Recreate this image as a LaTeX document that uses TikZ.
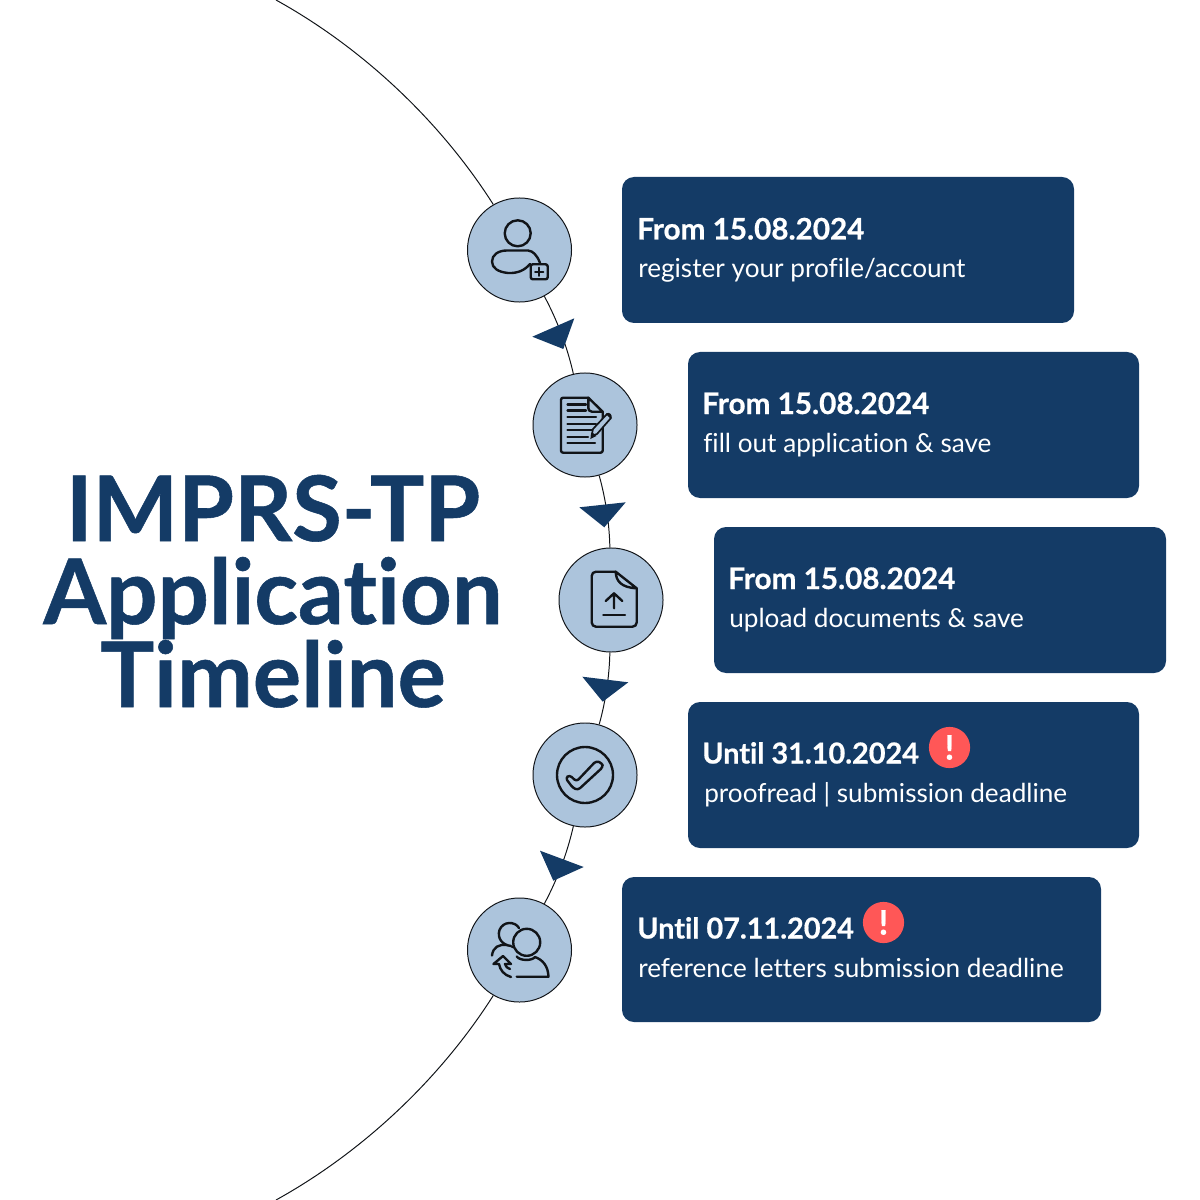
\documentclass[tikz,border=0pt]{standalone}
\usepackage{fontspec}
\setmainfont{Lato}[Ligatures=CommonOff,BoldFeatures={FakeBold=0.6}]
\usetikzlibrary{calc}
\definecolor{navy}{HTML}{143B66}
\definecolor{paleblue}{HTML}{ACC4DC}
\definecolor{alertred}{HTML}{FF5757}
\definecolor{inkline}{HTML}{111418}
\tikzset{
	stepcircle/.style={circle,draw=inkline,line width=0.7pt,fill=paleblue,minimum size=2.6cm,inner sep=0pt},
	stepbox/.style={draw=none,fill=navy,rounded corners=0.3cm},
	datehead/.style={anchor=base west,inner sep=0pt,text=white,font=\fontsize{21.1}{24}\selectfont\bfseries},
	untilhead/.style={datehead,font=\fontsize{20.5}{24}\selectfont\bfseries},
	datebody/.style={anchor=base west,inner sep=0pt,text=white,font=\fontsize{18.6}{20}\selectfont},
	titleline/.style={anchor=base,inner sep=0pt,text=navy,font=\fontsize{64.3}{70}\selectfont\bfseries},
	alertdot/.style={circle,fill=alertred,minimum size=1.03cm,inner sep=0pt,text=white,font=\fontsize{24}{24}\selectfont\bfseries},
	timeline/.style={draw=inkline,line width=0.7pt,looseness=0.85},
	tipfill/.style={fill=navy},
	iconline/.style={draw=inkline,line width=1.7pt,line cap=round,line join=round}
}
\begin{document}
\begin{tikzpicture}[x=0.025cm,y=-0.025cm]
	\useasboundingbox (0,0) rectangle (1200,1200);
	% boxes
	\fill[stepbox] (622,177) rectangle (1074,323);
	\fill[stepbox] (688,352) rectangle (1139,498);
	\fill[stepbox] (714,527) rectangle (1166,673);
	\fill[stepbox] (688,702) rectangle (1139,848);
	\fill[stepbox] (622,877) rectangle (1101,1022);
	% circles
	\node[stepcircle] (account) at (519.5,250) {};
	\node[stepcircle] (form) at (585,425) {};
	\node[stepcircle] (upload) at (611,600) {};
	\node[stepcircle] (check) at (585,775) {};
	\node[stepcircle] (referees) at (519.5,950) {};
	\coordinate (arctop) at (276,0);
	\coordinate (arcbottom) at (276,1200);
	% arc
	\draw[timeline] (arctop) to[bend left=14.3] (account);
	\draw[timeline] (account) to[bend left=7.7] (form);
	\draw[timeline] (form) to[bend left=7.2] (upload);
	\draw[timeline] (upload) to[bend left=7.2] (check);
	\draw[timeline] (check) to[bend left=7.7] (referees);
	\draw[timeline] (referees) to[bend left=14.3] (arcbottom);
	% arrow heads
	\fill[tipfill] (532.3,336.7) -- (574.3,318.3) -- (563.3,349) -- cycle;
	\fill[tipfill] (579.3,507.3) -- (625.7,502.3) -- (604.3,527.3) -- cycle;
	\fill[tipfill] (582.3,676.7) -- (628.3,682.3) -- (602.7,701.7) -- cycle;
	\fill[tipfill] (540,850.7) -- (583.7,867) -- (553.3,880.7) -- cycle;
	% title
	\node[titleline] (title1) at (273,541) {IMPRS-TP};
	\node[titleline] (title2) at (273,624) {Application};
	\node[titleline] (title3) at (273,707) {Timeline};
	% box texts
	\node[datehead] (head1) at (637,239.5) {From 15.08.2024};
	\node[datebody] (body1) at (638,278) {register your profile/account};
	\node[datehead] (head2) at (702,414) {From 15.08.2024};
	\node[datebody] (body2) at (703,452.5) {fill out application \& save};
	\node[datehead] (head3) at (728,589) {From 15.08.2024};
	\node[datebody] (body3) at (729,627.5) {upload documents \& save};
	\node[untilhead] (head4) at (702,763.5) {Until 31.10.2024};
	\node[datebody] (body4) at (704,802.5) {proofread | submission deadline};
	\node[untilhead] (head5) at (637,938.5) {Until 07.11.2024};
	\node[datebody] (body5) at (638,977) {reference letters submission deadline};
	\node[alertdot] (alert4) at (949.5,747.5) {!};
	\node[alertdot] (alert5) at (883.5,922.5) {!};
	% icon: person with plus
	\draw[iconline] (517.7,233.3) circle (13);
	\draw[iconline] (530,264) .. controls (525,270) and (518,273.5) .. (508,273) .. controls (498,272) and (492,268) .. (492,261.5) .. controls (492,255) and (498,250.5) .. (507,250.5) -- (528,250.5) .. controls (533,251) and (537,255) .. (540,263);
	\draw[iconline,fill=paleblue,rounded corners=1.5pt] (530.7,264.3) rectangle (547.7,279.3);
	\draw[iconline,line width=1.2pt] (539.2,267.5) -- (539.2,276) (535,271.8) -- (543.5,271.8);
	% icon: form with pencil
	\draw[iconline,rounded corners=1.5pt] (588.3,397.7) -- (561,397.7) -- (561,452.7) -- (602.7,452.7) -- (602.7,411.7);
	\draw[iconline] (588.3,397.7) -- (602.7,411.7) -- (592,411.7) .. controls (589.5,411.7) and (588.3,410) .. (588.3,408) -- cycle;
	\draw[iconline] (567.5,404.5) -- (586,404.5) (567.5,410.5) -- (586,410.5) (567.5,417) -- (596,417) (567.5,423.7) -- (596,423.7) (567.5,430) -- (593,430) (567.5,436.7) -- (588,436.7) (567.5,443.3) -- (595,443.3);
	\draw[iconline,fill=paleblue,line width=1.2pt] (591.5,436) -- (593,429) -- (607,414) -- (611,418) -- (597,434) -- cycle;
	\fill[inkline] (590.3,439) -- (592,432) -- (596.5,436) -- cycle;
	\fill[inkline] (606,413.5) -- (608.5,416) -- (611.5,418.5) .. controls (612.5,415) and (610,411.5) .. (606,413.5) -- cycle;
	% icon: file with upload arrow
	\draw[iconline,rounded corners=3pt] (615.7,571.7) -- (591.7,571.7) -- (591.7,626.7) -- (636.7,626.7) -- (636.7,588.3);
	\draw[iconline] (615.7,571.7) .. controls (616,581) and (621,587.5) .. (636.7,588.3) -- (615.7,571.7) -- cycle;
	\draw[iconline] (614,608.3) -- (614,593.3) (605.7,601) -- (614,593.3) -- (622.3,601);
	\draw[iconline] (603.3,615) -- (625,615);
	% icon: tick in circle
	\draw[iconline] (585,775) circle (28);
	\draw[iconline,rounded corners=2pt] (565.5,778) -- (569.5,775) -- (576.5,781.5) -- (596,761) -- (602,763) -- (603,767) -- (578,790) -- (573,788) -- cycle;
	% icon: two people
	\draw[iconline] (526.7,942.3) circle (13.5);
	\draw[iconline] (519,928) .. controls (515,921) and (503,921) .. (499.5,930) .. controls (497,938) and (502,945) .. (511,946);
	\draw[iconline] (516.7,956.5) .. controls (520,961) and (532,961) .. (535,957) .. controls (543,960) and (548,966) .. (548.5,976.7) -- (516.7,976.7);
	\draw[iconline] (492,955.5) .. controls (493,947) and (499,944) .. (507,945) (512,947) -- (513,947);
	\draw[iconline] (511,977) .. controls (504,975) and (500,970) .. (499,964) -- (493.5,964) -- (503,956) -- (511,964) -- (505,964) .. controls (506,967) and (507,968) .. (510,969);
\end{tikzpicture}
\end{document}
